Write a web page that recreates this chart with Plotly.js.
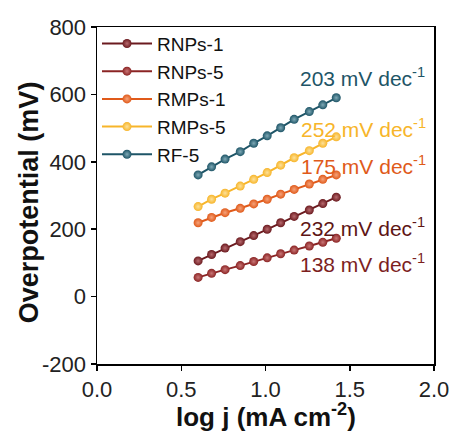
<!DOCTYPE html>
<html>
<head>
<meta charset="utf-8">
<script src="https://cdn.plot.ly/plotly-3.0.1.min.js"></script>
<style>html,body{margin:0;padding:0;background:#fff;}#chart{width:456px;height:432px;}</style>
</head>
<body>
<div id="chart"></div>
<script>
// log j (mA cm^-2)
const logJ = [0.60, 0.68, 0.76, 0.85, 0.93, 1.01, 1.09, 1.17, 1.26, 1.34, 1.42];
// Overpotential (mV)
const rnps1 = [106, 125, 144, 163, 181, 200, 219, 238, 257, 276, 295];
const rnps5 = [57, 69, 80, 92, 104, 115, 127, 138, 150, 161, 173];
const rmps1 = [219, 235, 249, 262, 275, 289, 304, 318, 334, 348, 361];
const rmps5 = [267, 289, 307, 328, 348, 368, 390, 412, 433, 455, 474];
const rf5   = [361, 385, 408, 430, 455, 477, 501, 526, 549, 569, 590];

const seriesNames = ["RNPs-1", "RNPs-5", "RMPs-1", "RMPs-5", "RF-5"];
const seriesData = [rnps1, rnps5, rmps1, rmps5, rf5];
const seriesColors = ["#6b1a1f", "#8b2424", "#e05a1a", "#f7b52a", "#1e5567"];
const seriesHighlights = ["#b86a6e", "#c97676", "#f5a27a", "#fde19a", "#7fa9b6"];

// axis ticks
const xTickVals = [0, 0.5, 1, 1.5, 2];
const xTickText = ["0.0", "0.5", "1.0", "1.5", "2.0"];
const yTickVals = [-200, 0, 200, 400, 600, 800];
const yTickText = ["-200", "0", "200", "400", "600", "800"];

// Tafel slope labels
const slopeLabels = ["232 mV dec<sup>-1</sup>", "138 mV dec<sup>-1</sup>", "175 mV dec<sup>-1</sup>", "252 mV dec<sup>-1</sup>", "203 mV dec<sup>-1</sup>"];
const slopeLabelX = [1.19, 1.19, 1.20, 1.20, 1.19];
const slopeLabelY = [206, 100, 390, 500, 652];
const slopeLabelColors = ["#5e1515", "#7d1f1f", "#e05a1a", "#f7b52a", "#1e5567"];

const FONT = "Arial, 'Liberation Sans', sans-serif";

const traces = seriesNames.map((name, i) => ({
  type: "scatter",
  mode: "lines+markers",
  name: name,
  x: logJ,
  y: seriesData[i],
  line: {color: seriesColors[i], width: 2},
  marker: {
    color: seriesColors[i],
    size: 9,
    gradient: {type: "radial", color: seriesHighlights[i]},
    line: {width: 0}
  }
}));

const annotations = slopeLabels.map((t, i) => ({
  x: slopeLabelX[i], y: slopeLabelY[i], xref: "x", yref: "y",
  text: t, showarrow: false, xanchor: "left", yanchor: "middle",
  font: {family: FONT, size: 21, color: slopeLabelColors[i]}
}));
// axis titles
annotations.push({
  x: -0.202, y: 0.48, xref: "paper", yref: "paper",
  text: "Overpotential (mV)", textangle: -90, showarrow: false,
  xanchor: "center", yanchor: "middle",
  font: {family: FONT, size: 27, weight: "bold", color: "#111"}
});
annotations.push({
  x: 0.5, y: -0.154, xref: "paper", yref: "paper",
  text: "log j (mA cm<sup>-2</sup>)", showarrow: false,
  xanchor: "center", yanchor: "middle", borderpad: 0,
  font: {family: FONT, size: 26, weight: "bold", color: "#111"}
});

const axisCommon = {
  showline: true, mirror: true, linecolor: "#000", linewidth: 1.5,
  ticks: "outside", ticklen: 5, tickwidth: 1.5, tickcolor: "#000",
  showgrid: false, zeroline: false, tickmode: "array",
  tickfont: {family: FONT, size: 22, color: "#222"}
};

const layout = {
  width: 456, height: 432,
  margin: {l: 97, r: 22, t: 27, b: 68},
  paper_bgcolor: "#fff", plot_bgcolor: "#fff",
  showlegend: true,
  legend: {
    x: 0.0, y: 1.007, xanchor: "left", yanchor: "top",
    bgcolor: "rgba(0,0,0,0)", borderwidth: 0,
    font: {family: FONT, size: 19, color: "#111"},
    itemwidth: 50, tracegroupgap: 0
  },
  xaxis: Object.assign({}, axisCommon, {
    range: [0, 2], tickvals: xTickVals, ticktext: xTickText
  }),
  yaxis: Object.assign({}, axisCommon, {
    range: [-200, 800], tickvals: yTickVals, ticktext: yTickText
  }),
  annotations: annotations
};

Plotly.newPlot("chart", traces, layout, {displayModeBar: false, staticPlot: true});
</script>
</body>
</html>
